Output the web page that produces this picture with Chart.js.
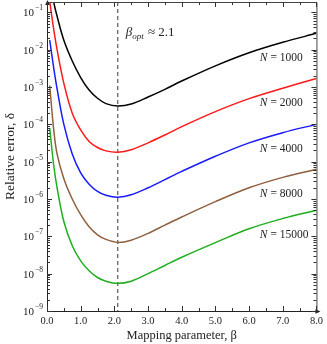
<!DOCTYPE html>
<html>
<head>
<meta charset="utf-8">
<script src="https://cdn.jsdelivr.net/npm/chart.js@4/dist/chart.umd.min.js"></script>
<style>
  html, body { margin: 0; padding: 0; background: #fff; }
</style>
</head>
<body>
<canvas id="chart" width="327" height="344"></canvas>
<script>
// mapping parameter values (x)
var betas = [0.08, 0.2, 0.3, 0.5, 0.75, 1.0, 1.25, 1.5, 1.75, 2.1, 2.5, 3.0, 3.5, 4.0, 5.0, 6.0, 7.0, 8.0];

// relative error for each N
var errN1000  = [1.0, 1.9e-1, 7.9e-2, 1.8e-2, 5.0e-3, 1.8e-3, 8.3e-4, 5.0e-4, 3.6e-4, 3.1e-4, 3.5e-4, 5.4e-4, 8.7e-4, 1.45e-3, 3.7e-3, 8.3e-3, 1.58e-2, 2.75e-2];
var errN2000  = [2.0e-1, 3.5e-2, 1.0e-2, 1.26e-3, 2.0e-4, 7.1e-5, 3.5e-5, 2.4e-5, 1.95e-5, 1.8e-5, 2.1e-5, 3.2e-5, 5.2e-5, 8.7e-5, 2.2e-4, 4.9e-4, 9.3e-4, 1.7e-3];
var errN4000  = [1.8e-2, 3.2e-3, 8.9e-4, 1.0e-4, 1.6e-5, 5.0e-6, 2.5e-6, 1.6e-6, 1.26e-6, 1.12e-6, 1.3e-6, 2.0e-6, 3.3e-6, 5.5e-6, 1.4e-5, 3.2e-5, 6.0e-5, 1.0e-4];
var errN8000  = [1.1e-3, 7.1e-5, 1.6e-5, 3.5e-6, 1.0e-6, 3.8e-7, 1.8e-7, 1.1e-7, 8.3e-8, 6.9e-8, 7.9e-8, 1.2e-7, 2.0e-7, 3.3e-7, 8.5e-7, 2.0e-6, 3.8e-6, 6.3e-6];
var errN15000 = [7.9e-5, 7.9e-6, 2.0e-6, 2.5e-7, 5.6e-8, 2.2e-8, 1.2e-8, 7.9e-9, 6.3e-9, 5.5e-9, 6.3e-9, 1.0e-8, 1.66e-8, 2.75e-8, 6.8e-8, 1.6e-7, 3.0e-7, 5.0e-7];

var nValues = [1000, 2000, 4000, 8000, 15000];
var betaOpt = 2.1;
var xTickValues = [0, 1, 2, 3, 4, 5, 6, 7, 8];
var yDecades = [-9, -8, -7, -6, -5, -4, -3, -2, -1];

var allErr = [errN1000, errN2000, errN4000, errN8000, errN15000];
var colors = ["#000000", "#ff1a1a", "#1a1aff", "#8f5f3f", "#1fae1f"];
var serif = "'Liberation Serif', 'DejaVu Serif', serif";
var ink = "#222";

var datasets = [];
for (var i = 0; i < allErr.length; i++) {
  var pts = [];
  for (var j = 0; j < betas.length; j++) {
    pts.push({x: betas[j], y: allErr[i][j]});
  }
  datasets.push({
    label: "N = " + nValues[i],
    data: pts,
    borderColor: colors[i],
    backgroundColor: colors[i],
    borderWidth: 1.5,
    pointRadius: 0,
    fill: false,
    tension: 0.35
  });
}

// frame, inward ticks, y labels, dashed line and annotations
var decorPlugin = {
  id: "decor",
  beforeDatasetsDraw: function(chart) {
    var ctx = chart.ctx, a = chart.chartArea, xs = chart.scales.x;
    var px = xs.getPixelForValue(betaOpt);
    ctx.save();
    ctx.strokeStyle = "#666";
    ctx.lineWidth = 1.3;
    ctx.setLineDash([4, 3]);
    ctx.beginPath();
    ctx.moveTo(px, a.top);
    ctx.lineTo(px, a.bottom);
    ctx.stroke();
    ctx.restore();
  },
  afterDraw: function(chart) {
    var ctx = chart.ctx, a = chart.chartArea;
    var xs = chart.scales.x, ys = chart.scales.y;
    ctx.save();
    ctx.strokeStyle = ink;
    ctx.fillStyle = ink;
    ctx.lineWidth = 1;

    // frame
    ctx.beginPath();
    ctx.moveTo(a.left + 0.5, a.top);
    ctx.lineTo(a.left + 0.5, a.bottom + 0.5);
    ctx.lineTo(a.right + 1, a.bottom + 0.5);
    ctx.stroke();
    ctx.strokeStyle = "#444";
    ctx.beginPath();
    ctx.moveTo(a.left, a.top + 0.5);
    ctx.lineTo(a.right + 0.5, a.top + 0.5);
    ctx.lineTo(a.right + 0.5, a.bottom);
    ctx.stroke();

    // arrowheads
    ctx.beginPath();
    ctx.moveTo(a.left + 0.5, a.top - 2);
    ctx.lineTo(a.left - 1.8, a.top + 3);
    ctx.lineTo(a.left + 2.8, a.top + 3);
    ctx.closePath();
    ctx.fill();
    ctx.beginPath();
    ctx.moveTo(a.right + 4, a.bottom + 0.5);
    ctx.lineTo(a.right - 1, a.bottom - 1.8);
    ctx.lineTo(a.right - 1, a.bottom + 2.8);
    ctx.closePath();
    ctx.fill();

    // x ticks (major at integers, minor at halves)
    ctx.strokeStyle = "#333";
    ctx.beginPath();
    for (var v = 0; v <= 8; v += 0.5) {
      var px = Math.round(xs.getPixelForValue(v)) + 0.5;
      var len = (v % 1 === 0) ? 5 : 3;
      ctx.moveTo(px, a.bottom);
      ctx.lineTo(px, a.bottom - len);
      ctx.moveTo(px, a.top);
      ctx.lineTo(px, a.top + len);
    }
    ctx.stroke();

    // y ticks (decades + minor 2..9)
    ctx.beginPath();
    yDecades.concat([0]).forEach(function(e) {
      for (var m = 1; m <= 9; m++) {
        var val = m * Math.pow(10, e);
        if (val < ys.min || val > ys.max) continue;
        var py = Math.round(ys.getPixelForValue(val)) + 0.5;
        var len = (m === 1) ? 5 : 3;
        ctx.moveTo(a.left, py);
        ctx.lineTo(a.left + len, py);
        ctx.moveTo(a.right, py);
        ctx.lineTo(a.right - len, py);
      }
    });
    ctx.stroke();

    // y labels 10^e
    ctx.fillStyle = ink;
    ctx.textBaseline = "middle";
    ctx.textAlign = "right";
    yDecades.forEach(function(e) {
      var py = ys.getPixelForValue(Math.pow(10, e));
      var exp = "\u2212" + Math.abs(e);
      ctx.font = "7.5px " + serif;
      var ew = ctx.measureText(exp).width;
      ctx.fillText(exp, a.left - 4, py - 4);
      ctx.font = "11px " + serif;
      ctx.fillText("10", a.left - 5 - ew, py + 1);
    });

    // beta_opt annotation
    var bx = xs.getPixelForValue(betaOpt) + 8;
    var by = 32;
    ctx.textAlign = "left";
    ctx.textBaseline = "alphabetic";
    ctx.font = "italic 13px " + serif;
    ctx.fillText("\u03b2", bx, by + 4);
    var w1 = ctx.measureText("\u03b2").width;
    ctx.font = "italic 9px " + serif;
    ctx.fillText("opt", bx + w1, by + 7);
    var w2 = ctx.measureText("opt").width;
    ctx.font = "13px " + serif;
    ctx.fillText(" \u2248 2.1", bx + w1 + w2 + 1, by + 4);

    // N labels below each curve's right end
    var lx = xs.getPixelForValue(6.32);
    for (var i = 0; i < allErr.length; i++) {
      var last = allErr[i][allErr[i].length - 1];
      var ly = ys.getPixelForValue(last) + 25;
      ctx.textBaseline = "middle";
      ctx.font = "italic 11.5px " + serif;
      ctx.fillText("N", lx, ly);
      var nw = ctx.measureText("N").width;
      ctx.font = "11.5px " + serif;
      ctx.fillText(" = " + nValues[i], lx + nw, ly);
    }
    ctx.restore();
  }
};

new Chart(document.getElementById("chart"), {
  type: "line",
  data: { datasets: datasets },
  options: {
    responsive: false,
    animation: false,
    layout: { padding: { top: 2, right: 8, left: 0, bottom: 0 } },
    plugins: { legend: { display: false }, tooltip: { enabled: false } },
    scales: {
      x: {
        type: "linear",
        min: 0,
        max: 8,
        grid: { display: false, drawTicks: false },
        border: { display: false },
        afterBuildTicks: function(s) { s.ticks = xTickValues.map(function(v) { return {value: v}; }); },
        ticks: {
          callback: function(v) { return Number(v).toFixed(1); },
          font: { family: serif, size: 10.5 },
          color: ink,
          padding: 4,
          maxRotation: 0,
          autoSkip: false
        },
        title: {
          display: true,
          text: "Mapping parameter, \u03b2",
          font: { family: serif, size: 12.5 },
          color: ink,
          padding: { top: 0, bottom: 1 }
        },
        afterFit: function(s) { s.height = 33; }
      },
      y: {
        type: "logarithmic",
        min: 1e-9,
        max: 0.19,
        grid: { display: false, drawTicks: false },
        border: { display: false },
        ticks: { display: false },
        title: {
          display: true,
          text: "Relative error, \u03b4",
          font: { family: serif, size: 13.5 },
          color: ink,
          padding: { top: 2, bottom: 0 }
        },
        afterFit: function(s) { s.width = 47; }
      }
    }
  },
  plugins: [decorPlugin]
});
</script>
</body>
</html>
